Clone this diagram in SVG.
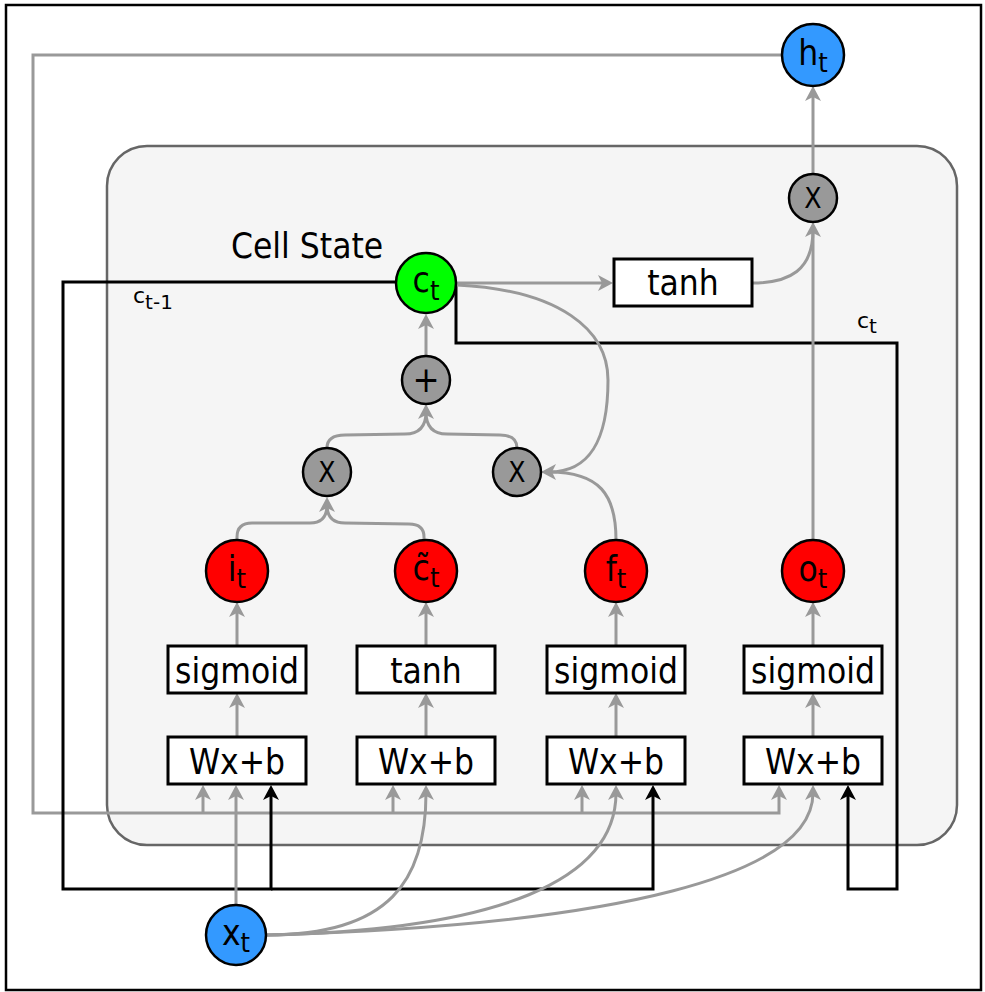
<svg xmlns="http://www.w3.org/2000/svg" width="985" height="992" viewBox="0 0 985 992">
<style>
.g{stroke:#999;stroke-width:3;fill:none}
.k{stroke:#000;stroke-width:3;fill:none}
.box{fill:#fff;stroke:#000;stroke-width:3}
.nd{stroke:#000;stroke-width:2.5}
.lbl{font-family:'DejaVu Sans Condensed','DejaVu Sans',sans-serif;font-size:35px;text-anchor:middle;fill:#000}
.op{font-family:'DejaVu Sans Condensed','DejaVu Sans',sans-serif;font-size:28px;text-anchor:middle;fill:#000}
.sm{font-family:'DejaVu Sans','Liberation Sans',sans-serif;font-size:22px;fill:#000}
</style>
<defs>
<marker id="ag" markerUnits="userSpaceOnUse" markerWidth="16" markerHeight="16" viewBox="0 0 16 16" refX="7" refY="8" orient="auto"><path d="M0,0 L15,8 L0,16 L4,8 z" fill="#999"/></marker>
<marker id="ak" markerUnits="userSpaceOnUse" markerWidth="16" markerHeight="16" viewBox="0 0 16 16" refX="7" refY="8" orient="auto"><path d="M0,0 L15,8 L0,16 L4,8 z" fill="#000"/></marker>
</defs>
<rect x="6" y="5" width="975" height="985" fill="#fff" stroke="#000" stroke-width="2.5"/>
<g id="cell">
<rect x="107" y="146" width="850" height="699" rx="40" fill="#f5f5f5" stroke="#666" stroke-width="2.5"/>
<text class="lbl" x="231" y="258" style="text-anchor:start">Cell State</text>
</g>
<g id="connectors">
<path class="g" d="M782,55 L33,55 L33,813 L779,813 L779,793" marker-end="url(#ag)"/>
<path class="g" d="M203,813 L203,793" marker-end="url(#ag)"/>
<path class="g" d="M393,813 L393,793" marker-end="url(#ag)"/>
<path class="g" d="M582,813 L582,793" marker-end="url(#ag)"/>
<path class="k" d="M396,282 L63,282 L63,889 L271,889 L271,793" marker-end="url(#ak)"/>
<path class="k" d="M271,889 L653,889 L653,793" marker-end="url(#ak)"/>
<path class="k" d="M456,283 L456,343 L897,343 L897,889 L848,889 L848,793" marker-end="url(#ak)"/>
<path class="g" d="M236,905 L236,793" marker-end="url(#ag)"/>
<path class="g" d="M267,935 C390,935 426,880 426,793" marker-end="url(#ag)"/>
<path class="g" d="M267,935 C500,930 616,880 616,793" marker-end="url(#ag)"/>
<path class="g" d="M267,935 C620,925 813,875 813,793" marker-end="url(#ag)"/>
<path class="g" d="M237,737 L237,701" marker-end="url(#ag)"/>
<path class="g" d="M426,737 L426,701" marker-end="url(#ag)"/>
<path class="g" d="M616,737 L616,701" marker-end="url(#ag)"/>
<path class="g" d="M813,737 L813,701" marker-end="url(#ag)"/>
<path class="g" d="M237,646 L237,610" marker-end="url(#ag)"/>
<path class="g" d="M426,646 L426,610" marker-end="url(#ag)"/>
<path class="g" d="M616,646 L616,610" marker-end="url(#ag)"/>
<path class="g" d="M813,646 L813,610" marker-end="url(#ag)"/>
<path class="g" d="M237,540 L237,537 Q237,523 252,523 L310,523 Q327,523 327,505" marker-end="url(#ag)"/>
<path class="g" d="M424,540 L424,537 Q424,524 409,524 L345,523 Q327,523 327,505"/>
<path class="g" d="M327,448 Q327,435 345,435 L405,434 Q426,434 426,412" marker-end="url(#ag)"/>
<path class="g" d="M517,448 Q517,435 500,435 L447,434 Q426,434 426,412"/>
<path class="g" d="M426,356 L426,322" marker-end="url(#ag)"/>
<path class="g" d="M457,283 L605,283" marker-end="url(#ag)"/>
<path class="g" d="M457,285 C560,290 608,330 608,380 C608,440 590,472 549,472" marker-end="url(#ag)"/>
<path class="g" d="M616,540 C616,495 600,472 549,472"/>
<path class="g" d="M752,283 C790,283 813,270 813,230" marker-end="url(#ag)"/>
<path class="g" d="M813,540 L813,230"/>
<path class="g" d="M813,174 L813,94" marker-end="url(#ag)"/>
</g>
<g id="labels">
<text class="sm" x="133" y="303">c<tspan style="font-size:20px" dy="6">t-1</tspan></text>
<text class="sm" x="857" y="328">c<tspan style="font-size:20px" dy="5">t</tspan></text>
</g>
<g id="wx1"><rect class="box" x="168" y="737" width="138" height="47"/><text class="lbl" x="237" y="774">Wx+b</text></g>
<g id="wx2"><rect class="box" x="357" y="737" width="138" height="47"/><text class="lbl" x="426" y="774">Wx+b</text></g>
<g id="wx3"><rect class="box" x="547" y="737" width="138" height="47"/><text class="lbl" x="616" y="774">Wx+b</text></g>
<g id="wx4"><rect class="box" x="744" y="737" width="138" height="47"/><text class="lbl" x="813" y="774">Wx+b</text></g>
<g id="sig1"><rect class="box" x="168" y="646" width="138" height="47"/><text class="lbl" x="237" y="683">sigmoid</text></g>
<g id="tanh2"><rect class="box" x="357" y="646" width="138" height="47"/><text class="lbl" x="426" y="683">tanh</text></g>
<g id="sig3"><rect class="box" x="547" y="646" width="138" height="47"/><text class="lbl" x="616" y="683">sigmoid</text></g>
<g id="sig4"><rect class="box" x="744" y="646" width="138" height="47"/><text class="lbl" x="813" y="683">sigmoid</text></g>
<g id="tanhc"><rect class="box" x="614" y="259" width="138" height="47"/><text class="lbl" x="683" y="295">tanh</text></g>
<g id="it"><circle class="nd" cx="237" cy="571" r="31" fill="#ff0000"/><text class="lbl" x="237" y="581">i<tspan style="font-size:27px" dy="7">t</tspan></text></g>
<g id="ctil"><circle class="nd" cx="426" cy="571" r="31" fill="#ff0000"/><text class="lbl" x="426" y="580">c&#771;<tspan style="font-size:27px" dy="7">t</tspan></text></g>
<g id="ft"><circle class="nd" cx="616" cy="571" r="31" fill="#ff0000"/><text class="lbl" x="616" y="581">f<tspan style="font-size:27px" dy="7">t</tspan></text></g>
<g id="ot"><circle class="nd" cx="813" cy="571" r="31" fill="#ff0000"/><text class="lbl" x="813" y="581">o<tspan style="font-size:27px" dy="7">t</tspan></text></g>
<g id="mul1"><circle class="nd" cx="327" cy="472" r="24" fill="#999"/><text class="op" x="327" y="482">X</text></g>
<g id="mul2"><circle class="nd" cx="517" cy="472" r="24" fill="#999"/><text class="op" x="517" y="482">X</text></g>
<g id="add"><circle class="nd" cx="426" cy="380" r="24" fill="#999"/><text class="op" x="426" y="392" style="font-size:36px">+</text></g>
<g id="mul3"><circle class="nd" cx="813" cy="198" r="24" fill="#999"/><text class="op" x="813" y="208">X</text></g>
<g id="ct"><circle class="nd" cx="426" cy="283" r="30" fill="#00ff00"/><text class="lbl" x="426" y="292">c<tspan style="font-size:27px" dy="8">t</tspan></text></g>
<g id="ht"><circle class="nd" cx="813" cy="55" r="31" fill="#3399ff"/><text class="lbl" x="813" y="65">h<tspan style="font-size:27px" dy="7">t</tspan></text></g>
<g id="xt"><circle class="nd" cx="236" cy="935" r="30" fill="#3399ff"/><text class="lbl" x="236" y="945">x<tspan style="font-size:27px" dy="7">t</tspan></text></g>
</svg>
